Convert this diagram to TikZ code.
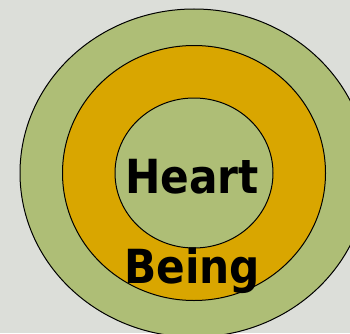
\documentclass[tikz,border=0pt]{standalone}
\usepackage{fontspec}
\setmainfont{DejaVu Sans}
\newfontfamily\ringfont{DejaVu Sans Condensed}
\usetikzlibrary{shapes.geometric}
\definecolor{ringgreen}{HTML}{AEBE76}
\definecolor{ringgold}{HTML}{D9A600}
\definecolor{backgray}{HTML}{DCDED9}
\begin{document}
\begin{tikzpicture}[x=1pt, y=1pt,
    ring/.style={draw, ellipse, line width=1pt, inner sep=0pt},
    word/.style={font=\ringfont\bfseries\fontsize{47}{50}\selectfont, anchor=base, inner sep=0pt}]
    \useasboundingbox (0,0) rectangle (350,333);
    \clip (0,0) rectangle (350,333);
    \fill[backgray] (0,0) rectangle (350,333);
    \coordinate (c) at (194,160);
    
    % Rings from outside in
    \node[ring, fill=ringgreen, minimum width=348pt, minimum height=328pt] (outer) at (c) {};
    \node[ring, fill=ringgold, minimum width=263pt, minimum height=255pt] (middle) at (c) {};
    \node[ring, fill=ringgreen, minimum width=158pt, minimum height=150pt] (inner) at (c) {};
    
    % Labels
    \node[word] (heart) at (192,140) {Heart};
    \node[word] (being) at (192,50) {Being};
\end{tikzpicture}
\end{document}
